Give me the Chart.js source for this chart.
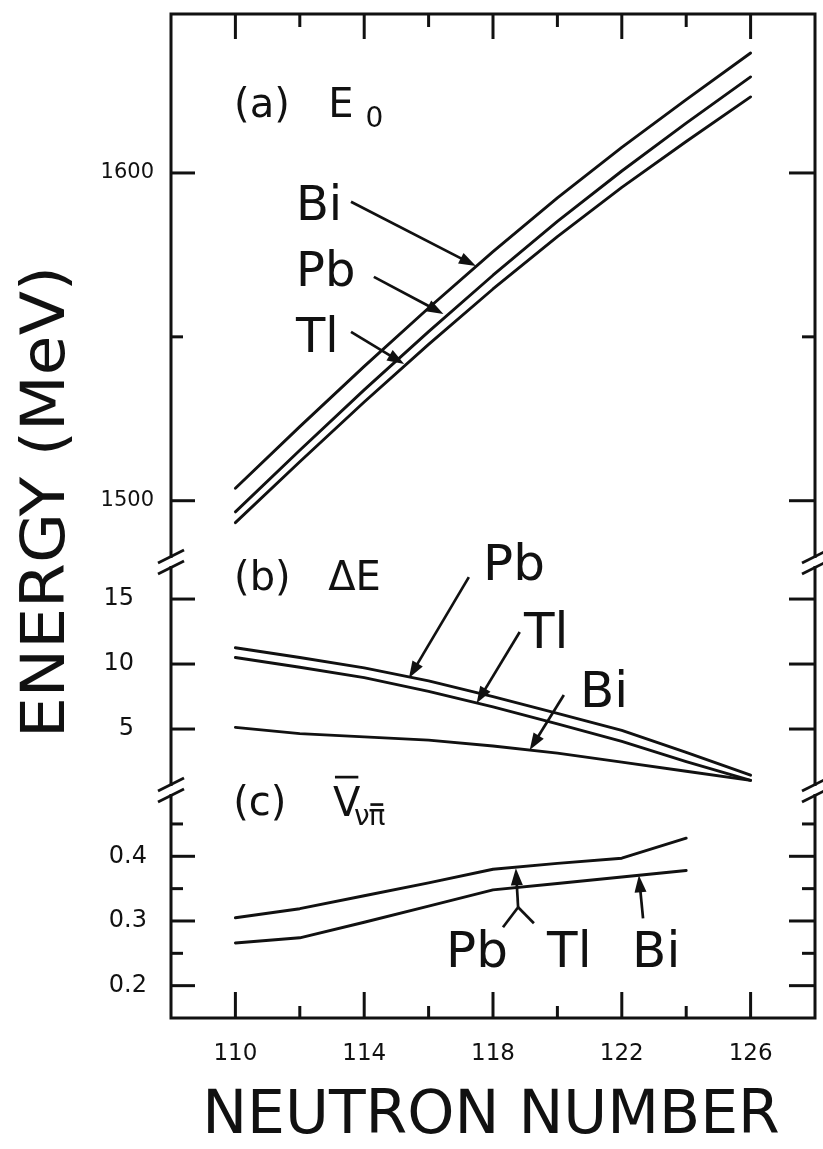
<!DOCTYPE html>
<html>
<head>
<meta charset="utf-8">
<title>Energy vs neutron number</title>
<script src="https://cdn.jsdelivr.net/npm/chart.js@4.4.1/dist/chart.umd.min.js"></script>
<style>
  html, body { margin: 0; padding: 0; background: #fff; }
  #chart { display: block; }
</style>
</head>
<body>
<canvas id="chart" width="823" height="1149"></canvas>
<script>
// neutron numbers (x)
const neutronNumbers = [110, 112, 114, 116, 118, 120, 122, 124, 126];
const neutronNumbersV = [110, 112, 114, 116, 118, 120, 122, 124];

// (a) E0 in MeV
const e0Bi = [1503.8, 1522.6, 1541.0, 1558.8, 1576.0, 1592.4, 1607.8, 1622.4, 1636.6];
const e0Pb = [1496.6, 1515.4, 1533.8, 1551.6, 1568.8, 1585.2, 1600.6, 1615.2, 1629.3];
const e0Tl = [1493.3, 1511.9, 1530.1, 1547.7, 1564.6, 1580.6, 1595.6, 1609.6, 1623.2];

// (b) delta E in MeV
const dePb = [11.25, 10.5, 9.7, 8.7, 7.5, 6.2, 4.9, 3.2, 1.45];
const deTl = [10.5, 9.75, 8.95, 7.9, 6.7, 5.4, 4.05, 2.5, 1.05];
const deBi = [5.13, 4.65, 4.4, 4.15, 3.7, 3.15, 2.45, 1.75, 1.05];

// (c) V nu pi-bar
const vPbTl = [0.305, 0.319, 0.339, 0.359, 0.380, 0.389, 0.397, 0.428];
const vBi = [0.266, 0.274, 0.298, 0.323, 0.348, 0.358, 0.368, 0.378];

// ticks
const xMajorTicks = [110, 114, 118, 122, 126];
const xMinorTicks = [112, 116, 120, 124];
const e0Ticks = [1500, 1600];
const e0Minor = [1550];
const deTicks = [5, 10, 15];
const vTicks = [0.2, 0.3, 0.4];
const vMinor = [0.25, 0.35, 0.45];

const INK = "#111";
const FONT = "'DejaVu Sans', 'Liberation Sans', sans-serif";

const pts = (xs, ys) => xs.map((x, i) => ({ x: x, y: ys[i] }));

// text and arrows, placed in data coordinates of each panel
const texts = [
  { axis: "ya", x: 109.96, y: 1617.1, text: "(a)", size: 40 },
  { axis: "ya", x: 112.88, y: 1617.1, text: "E", size: 40 },
  { axis: "ya", x: 114.04, y: 1614.0, text: "0", size: 28 },
  { axis: "ya", x: 111.88, y: 1585.7, text: "Bi", size: 48 },
  { axis: "ya", x: 111.88, y: 1565.5, text: "Pb", size: 48 },
  { axis: "ya", x: 111.88, y: 1545.4, text: "Tl", size: 48 },
  { axis: "yb", x: 109.96, y: 15.69, text: "(b)", size: 40 },
  { axis: "yb", x: 112.88, y: 15.69, text: "ΔE", size: 40 },
  { axis: "yb", x: 117.69, y: 16.46, text: "Pb", size: 50 },
  { axis: "yb", x: 118.96, y: 11.23, text: "Tl", size: 50 },
  { axis: "yb", x: 120.70, y: 6.69, text: "Bi", size: 50 },
  { axis: "yc", x: 109.93, y: 0.4634, text: "(c)", size: 40 },
  { axis: "yc", x: 113.03, y: 0.4618, text: "V", size: 40, bar: true },
  { axis: "yc", x: 113.68, y: 0.448, text: "ν", size: 28 },
  { axis: "yc", x: 114.13, y: 0.448, text: "π", size: 28, bar: true },
  { axis: "yc", x: 116.54, y: 0.2284, text: "Pb", size: 50 },
  { axis: "yc", x: 119.68, y: 0.2284, text: "Tl", size: 50 },
  { axis: "yc", x: 122.32, y: 0.2284, text: "Bi", size: 50 },
];

const arrows = [
  { axis: "ya", from: [113.59, 1591.2], to: [117.47, 1571.6] },
  { axis: "ya", from: [114.30, 1568.3], to: [116.46, 1557.0] },
  { axis: "ya", from: [113.59, 1551.5], to: [115.24, 1541.7] },
  { axis: "yb", from: [117.25, 16.69], to: [115.39, 8.92] },
  { axis: "yb", from: [118.83, 12.46], to: [117.49, 6.98] },
  { axis: "yb", from: [120.20, 7.62], to: [119.14, 3.38] },
  { axis: "yc", from: [118.78, 0.3212], to: [118.71, 0.3815] },
  { axis: "yc", from: [122.66, 0.304], to: [122.53, 0.3706] },
];
const forkLegs = [
  { axis: "yc", from: [118.78, 0.3212], to: [118.31, 0.2903] },
  { axis: "yc", from: [118.78, 0.3212], to: [119.27, 0.2964] },
];

function seg(ctx, x1, y1, x2, y2) {
  ctx.beginPath();
  ctx.moveTo(x1, y1);
  ctx.lineTo(x2, y2);
  ctx.stroke();
}

function arrowHead(ctx, x1, y1, x2, y2) {
  const a = Math.atan2(y2 - y1, x2 - x1);
  const c = Math.cos(a), s = Math.sin(a);
  const L = 17, W = 6;
  seg(ctx, x1, y1, x2 - c * L * 0.7, y2 - s * L * 0.7);
  ctx.beginPath();
  ctx.moveTo(x2, y2);
  ctx.lineTo(x2 - c * L + s * W, y2 - s * L - c * W);
  ctx.lineTo(x2 - c * L - s * W, y2 - s * L + c * W);
  ctx.closePath();
  ctx.fill();
}

const framePlugin = {
  id: "frame",
  afterDraw(chart) {
    const { ctx, chartArea: a, scales } = chart;
    const sx = scales.x;
    ctx.save();
    ctx.strokeStyle = INK;
    ctx.fillStyle = INK;
    ctx.lineWidth = 3;
    ctx.strokeRect(a.left, a.top, a.right - a.left, a.bottom - a.top);

    // x ticks, top and bottom, pointing inwards
    xMajorTicks.forEach((v) => {
      const p = sx.getPixelForValue(v);
      seg(ctx, p, a.bottom, p, a.bottom - 26);
      seg(ctx, p, a.top, p, a.top + 25);
    });
    xMinorTicks.forEach((v) => {
      const p = sx.getPixelForValue(v);
      seg(ctx, p, a.bottom, p, a.bottom - 12);
      seg(ctx, p, a.top, p, a.top + 13);
    });

    // y ticks for each panel, left and right
    [["ya", e0Ticks, e0Minor], ["yb", deTicks, []], ["yc", vTicks, vMinor]].forEach(([id, major, minor]) => {
      const s = scales[id];
      major.forEach((v) => {
        const p = s.getPixelForValue(v);
        seg(ctx, a.left, p, a.left + 24, p);
        seg(ctx, a.right, p, a.right - 26, p);
      });
      minor.forEach((v) => {
        const p = s.getPixelForValue(v);
        seg(ctx, a.left, p, a.left + 12, p);
        seg(ctx, a.right, p, a.right - 13, p);
      });
    });

    // axis breaks between the panels
    [scales.ya.bottom, scales.yb.bottom].forEach((y) => {
      [a.left, a.right].forEach((x) => {
        ctx.fillStyle = "#fff";
        ctx.fillRect(x - 3, y - 4, 6, 8);
        ctx.lineWidth = 2.8;
        [-5.5, 5.5].forEach((d) => seg(ctx, x - 13, y + d + 6.5, x + 13, y + d - 6.5));
        ctx.lineWidth = 3;
      });
    });

    // labels and arrows
    ctx.fillStyle = INK;
    ctx.lineWidth = 2.7;
    ctx.textAlign = "left";
    ctx.textBaseline = "alphabetic";
    texts.forEach((t) => {
      const px = sx.getPixelForValue(t.x);
      const py = scales[t.axis].getPixelForValue(t.y);
      ctx.font = t.size + "px " + FONT;
      ctx.fillText(t.text, px, py);
      if (t.bar) {
        const w = ctx.measureText(t.text).width;
        const h = t.text === "V" ? t.size * 0.73 + 10 : t.size * 0.56 + 5;
        seg(ctx, px + 2, py - h, px + w - 2, py - h);
      }
    });
    arrows.forEach((r) => {
      const s = scales[r.axis];
      arrowHead(ctx, sx.getPixelForValue(r.from[0]), s.getPixelForValue(r.from[1]),
        sx.getPixelForValue(r.to[0]), s.getPixelForValue(r.to[1]));
    });
    forkLegs.forEach((r) => {
      const s = scales[r.axis];
      seg(ctx, sx.getPixelForValue(r.from[0]), s.getPixelForValue(r.from[1]),
        sx.getPixelForValue(r.to[0]), s.getPixelForValue(r.to[1]));
    });

    // axis titles
    ctx.font = "60px " + FONT;
    ctx.textAlign = "center";
    ctx.fillText("NEUTRON NUMBER", (a.left + a.right) / 2 - 2, a.bottom + 115);
    ctx.font = "61px " + FONT;
    ctx.translate(a.left - 107, 502);
    ctx.rotate(-Math.PI / 2);
    ctx.scale(1.06, 1);
    ctx.fillText("ENERGY (MeV)", 0, 0);
    ctx.restore();
  },
};

function noPadding(s) {
  s.paddingTop = 0;
  s.paddingBottom = 0;
  s.paddingLeft = 0;
  s.paddingRight = 0;
}

function yScale(weight, min, max, ticks, pad, size, fmt) {
  return {
    type: "linear",
    position: "left",
    stack: "energy",
    stackWeight: weight,
    min: min,
    max: max,
    grid: { display: false, drawTicks: false },
    border: { display: false },
    afterBuildTicks: (s) => { s.ticks = ticks.map((v) => ({ value: v })); },
    afterFit: (s) => { s.width = 171; noPadding(s); },
    ticks: { padding: pad, autoSkip: false, color: INK, font: { family: FONT, size: size }, callback: fmt },
  };
}

const line = (data, axis) => ({ data: data, yAxisID: axis });

new Chart(document.getElementById("chart"), {
  type: "line",
  data: {
    datasets: [
      line(pts(neutronNumbers, e0Bi), "ya"),
      line(pts(neutronNumbers, e0Pb), "ya"),
      line(pts(neutronNumbers, e0Tl), "ya"),
      line(pts(neutronNumbers, dePb), "yb"),
      line(pts(neutronNumbers, deTl), "yb"),
      line(pts(neutronNumbers, deBi), "yb"),
      line(pts(neutronNumbersV, vPbTl), "yc"),
      line(pts(neutronNumbersV, vBi), "yc"),
    ],
  },
  options: {
    responsive: false,
    animation: false,
    devicePixelRatio: 1,
    layout: { padding: { top: 14, right: 8, left: 0, bottom: 0 } },
    plugins: { legend: { display: false }, tooltip: { enabled: false } },
    elements: {
      line: { borderColor: INK, borderWidth: 2.9, tension: 0, borderCapStyle: "round", borderJoinStyle: "round", fill: false },
      point: { radius: 0 },
    },
    scales: {
      x: {
        type: "linear",
        min: 108,
        max: 128,
        grid: { display: false, drawTicks: false },
        border: { display: false },
        afterBuildTicks: (s) => { s.ticks = xMajorTicks.map((v) => ({ value: v })); },
        afterFit: (s) => { s.height = 131; noPadding(s); },
        ticks: { padding: 22, autoSkip: false, maxRotation: 0, color: INK, font: { family: FONT, size: 23 }, callback: (v) => String(v) },
      },
      yc: yScale(228, 0.15, 0.5025, vTicks, 24, 24, (v) => v.toFixed(1)),
      yb: yScale(228, 0.31, 17.85, deTicks, 37, 24, (v) => String(v)),
      ya: yScale(548, 1481.3, 1648.5, e0Ticks, 17, 21, (v) => String(v)),
    },
  },
  plugins: [framePlugin],
});
</script>
</body>
</html>
